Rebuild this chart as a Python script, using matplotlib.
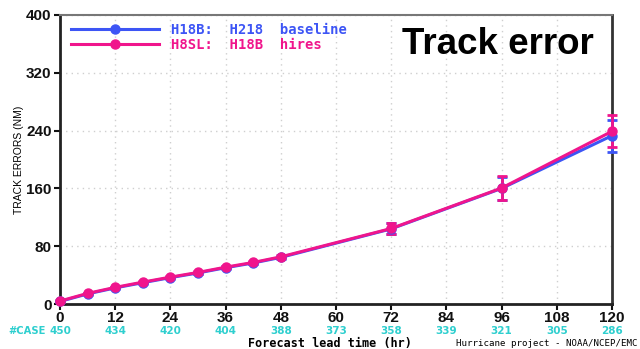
import matplotlib
matplotlib.use("Agg")
import matplotlib.pyplot as plt
from matplotlib.lines import Line2D

# Forecast lead times (hr) and mean track errors (nm)
hours = [0, 6, 12, 18, 24, 30, 36, 42, 48, 72, 96, 120]
h18b_err = [3.5, 14.0, 22.3, 29.5, 36.5, 43.0, 50.2, 56.8, 64.5, 104.0, 160.0, 233.0]
h8sl_err = [4.1, 14.7, 23.0, 30.3, 37.2, 43.7, 51.0, 57.5, 65.3, 104.5, 160.5, 239.0]
h18b_ci = [0.8, 0.9, 1.0, 1.2, 1.4, 1.6, 1.8, 2.0, 2.2, 7.5, 16.0, 22.0]
h8sl_ci = [0.8, 0.9, 1.0, 1.2, 1.4, 1.6, 1.8, 2.0, 2.2, 7.5, 16.0, 22.0]

# Verification sample size per lead time
case_hours = [0, 12, 24, 36, 48, 60, 72, 84, 96, 108, 120]
case_counts = [450, 434, 420, 404, 388, 373, 358, 339, 321, 305, 286]

series_labels = ["H18B:  H218  baseline", "H8SL:  H18B  hires"]
blue = "#3d55f5"
pink = "#f0158c"
cyan = "#2ecfcf"

W, H = 640, 349
fig = plt.figure(figsize=(W / 100, H / 100), dpi=100)
ax = fig.add_axes([60 / W, 1 - 304 / H, (612 - 60) / W, (304 - 15) / H])

for y, e, c in [(h18b_err, h18b_ci, blue), (h8sl_err, h8sl_ci, pink)]:
    ax.errorbar(hours, y, yerr=e, color=c, lw=2.2, marker="o", ms=6.5,
                capsize=3.5, capthick=2, elinewidth=2, zorder=3,
                clip_on=False)

ax.set_xlim(0, 120)
ax.set_ylim(0, 400)
ax.set_xticks(range(0, 121, 12))
ax.set_yticks(range(0, 401, 80))
ax.grid(True, color="#cfcfcf", ls=(0, (1, 3)), lw=1.0)
ax.set_axisbelow(True)

for side in ("left", "bottom"):
    ax.spines[side].set_linewidth(2)
    ax.spines[side].set_color("#222222")
ax.spines["top"].set_color("#777777")
ax.spines["top"].set_linewidth(1.5)
ax.spines["right"].set_color("#333333")
ax.spines["right"].set_linewidth(2)

ax.tick_params(axis="both", direction="out", length=4, width=1.5,
               labelsize=11, pad=2, colors="#111111")
ax.tick_params(axis="x", pad=1)
for lbl in ax.get_xticklabels() + ax.get_yticklabels():
    lbl.set_fontfamily("Liberation Sans")
    lbl.set_fontweight("bold")

handles = [Line2D([], [], color=c, lw=2.2, marker="o", ms=6.5)
           for c in (blue, pink)]
leg = ax.legend(handles, series_labels, loc="upper left",
                bbox_to_anchor=(0.005, 1.0), frameon=False,
                handlelength=6.3, handletextpad=0.9, labelspacing=0.05,
                borderaxespad=0.2,
                prop={"family": "DejaVu Sans Mono", "weight": "bold", "size": 10})
for txt, c in zip(leg.get_texts(), [blue, pink]):
    txt.set_color(c)

fig.text(498 / W, 1 - 45 / H, "Track error", ha="center", va="center",
         fontsize=26.5, fontweight="bold", family="Liberation Sans")

ax.set_ylabel("TRACK ERRORS (NM)", family="Liberation Sans", fontsize=7.5)
ax.yaxis.set_label_coords(-0.065, (304 - 160) / 289)

# Sample counts under the time axis
trans = ax.get_xaxis_transform()
for h, n in zip(case_hours, case_counts):
    ax.text(h, -(331 - 304) / 289, str(n), transform=trans, ha="center",
            va="center", color=cyan, fontsize=7.5, fontweight="bold",
            family="DejaVu Sans")
fig.text(46 / W, 1 - 331 / H, "#CASE", ha="right", va="center", color=cyan,
         fontsize=7.2, fontweight="bold", family="DejaVu Sans")

fig.text(330 / W, 1 - 343 / H, "Forecast lead time (hr)", ha="center",
         va="center", fontsize=8.5, fontweight="bold", family="DejaVu Sans Mono")
fig.text(638 / W, 1 - 344 / H, "Hurricane project - NOAA/NCEP/EMC",
         ha="right", va="center", fontsize=6.6, family="DejaVu Sans Mono")

fig.savefig("out.png", dpi=100)
